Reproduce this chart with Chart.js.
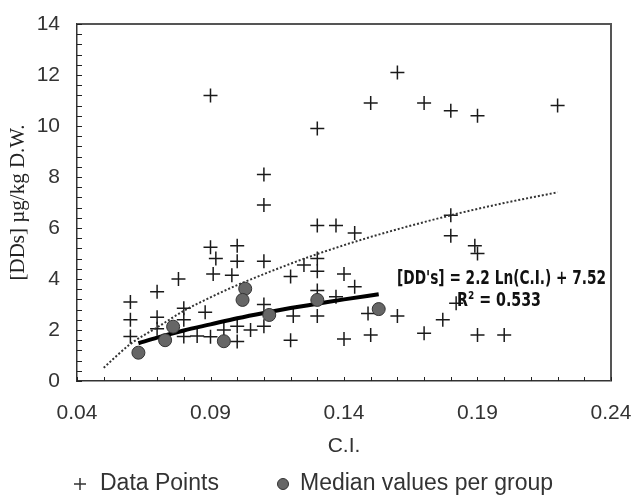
<!DOCTYPE html>
<html>
<head>
<meta charset="utf-8">
<script src="https://cdn.jsdelivr.net/npm/chart.js@4"></script>
<style>
  body { margin: 0; background: #fff; }
  #wrap { width: 634px; height: 498px; }
</style>
</head>
<body>
<div id="wrap"><canvas id="myChart"></canvas></div>
<script>
// individual samples (C.I., [DDs])
var pointsX = [0.06, 0.06, 0.06, 0.07, 0.07, 0.07, 0.078, 0.08, 0.08, 0.08,
  0.085, 0.088, 0.09, 0.09, 0.09, 0.092, 0.091, 0.095, 0.098, 0.10,
  0.10, 0.10, 0.10, 0.105, 0.11, 0.11, 0.11, 0.11, 0.11, 0.12,
  0.121, 0.12, 0.125, 0.13, 0.13, 0.13, 0.13, 0.13, 0.13, 0.137,
  0.137, 0.14, 0.14, 0.144, 0.144, 0.149, 0.15, 0.15, 0.16, 0.16,
  0.17, 0.17, 0.177, 0.18, 0.18, 0.18, 0.182, 0.189, 0.19, 0.19,
  0.19, 0.20, 0.22];
var pointsY = [3.1, 2.4, 1.75, 3.5, 2.5, 2.05, 4.0, 2.85, 2.4, 1.75,
  1.76, 2.7, 5.25, 1.74, 11.2, 4.8, 4.2, 2.0, 4.15, 5.3,
  4.7, 2.15, 1.55, 2.0, 8.1, 6.9, 4.7, 3.0, 2.15, 4.1,
  2.55, 1.6, 4.55, 9.9, 6.1, 4.8, 4.3, 3.55, 2.55, 6.1,
  3.3, 4.2, 1.65, 5.8, 3.7, 2.65, 10.9, 1.8, 12.1, 2.55,
  10.9, 1.87, 2.4, 10.6, 6.5, 5.7, 3.05, 5.3, 5.0, 10.4,
  1.8, 1.8, 10.8];

// medians per group
var medianX = [0.063, 0.073, 0.076, 0.095, 0.103, 0.102, 0.112, 0.13, 0.153];
var medianY = [1.11, 1.6, 2.13, 1.56, 3.62, 3.18, 2.59, 3.18, 2.82];

// dotted trend through all samples
var trendAllX = [0.05, 0.06, 0.07, 0.08, 0.09, 0.10, 0.12, 0.13, 0.15, 0.18, 0.20, 0.22];
var trendAllY = [0.52, 1.45, 2.1, 2.75, 3.28, 3.76, 4.6, 4.98, 5.65, 6.5, 6.98, 7.4];

// solid fit through medians
var fitX = [0.063, 0.07, 0.08, 0.09, 0.10, 0.11, 0.12, 0.13, 0.14, 0.153];
var fitY = [1.48, 1.7, 1.98, 2.22, 2.46, 2.67, 2.86, 3.03, 3.2, 3.4];

var eqText = "[DD's] = 2.2 Ln(C.I.) + 7.52";
var r2Text = "R\u00B2 = 0.533";
var legendNames = ['Data Points', 'Median values per group'];

function toXY(xs, ys) {
  return xs.map(function (x, i) { return { x: x, y: ys[i] }; });
}

var frame = {
  id: 'frame',
  afterDraw: function (chart) {
    var ctx = chart.ctx, a = chart.chartArea;
    var xs = chart.scales.x, ys = chart.scales.y;
    ctx.save();
    // top and right border
    ctx.strokeStyle = '#555';
    ctx.lineWidth = 2;
    ctx.beginPath();
    ctx.moveTo(a.left, a.top);
    ctx.lineTo(a.right, a.top);
    ctx.lineTo(a.right, a.bottom);
    ctx.stroke();
    // inside tick marks
    ctx.strokeStyle = '#222';
    ctx.lineWidth = 1;
    ctx.beginPath();
    xs.ticks.forEach(function (t) {
      var px = Math.round(xs.getPixelForValue(t.value)) + 0.5;
      ctx.moveTo(px, a.bottom);
      ctx.lineTo(px, a.bottom - 4);
    });
    ys.ticks.forEach(function (t) {
      var py = Math.round(ys.getPixelForValue(t.value)) + 0.5;
      ctx.moveTo(a.left, py);
      ctx.lineTo(a.left + 5, py);
    });
    ctx.stroke();

    // regression equation
    ctx.fillStyle = '#111';
    ctx.font = 'bold 20px "DejaVu Sans Condensed", "Liberation Sans"';
    ctx.textAlign = 'left';
    ctx.textBaseline = 'middle';
    ctx.fillText(eqText, 397, 279, 209);
    ctx.fillText(r2Text, 457, 301, 84);

    // legend
    var ly = 484;
    ctx.font = '23px "Liberation Sans"';
    ctx.fillStyle = '#333';
    ctx.fillText(legendNames[0], 100, ly);
    ctx.fillText(legendNames[1], 300, ly);
    ctx.strokeStyle = '#333';
    ctx.lineWidth = 1.5;
    ctx.beginPath();
    ctx.moveTo(74, ly); ctx.lineTo(86, ly);
    ctx.moveTo(80, ly - 6); ctx.lineTo(80, ly + 6);
    ctx.stroke();
    ctx.beginPath();
    ctx.arc(283, ly, 5.5, 0, Math.PI * 2);
    ctx.fillStyle = '#666';
    ctx.fill();
    ctx.lineWidth = 1;
    ctx.stroke();
    ctx.restore();
  }
};

var ctx = document.getElementById('myChart').getContext('2d');
var chart = new Chart(ctx, {
  type: 'scatter',
  data: {
    datasets: [{
      label: legendNames[0],
      data: toXY(pointsX, pointsY),
      pointStyle: 'cross',
      pointRadius: 7,
      borderColor: '#1a1a1a',
      backgroundColor: '#1a1a1a',
      borderWidth: 1.5,
      order: 3
    }, {
      label: legendNames[1],
      data: toXY(medianX, medianY),
      pointStyle: 'circle',
      pointRadius: 6.5,
      backgroundColor: '#666',
      borderColor: '#333',
      borderWidth: 1,
      order: 0
    }, {
      label: 'trend',
      data: toXY(trendAllX, trendAllY),
      showLine: true,
      pointRadius: 0,
      borderColor: '#333',
      borderWidth: 2,
      borderDash: [2, 2],
      cubicInterpolationMode: 'monotone',
      order: 2
    }, {
      label: 'fit',
      data: toXY(fitX, fitY),
      showLine: true,
      pointRadius: 0,
      borderColor: '#000',
      borderWidth: 4,
      cubicInterpolationMode: 'monotone',
      order: 1
    }]
  },
  options: {
    responsive: true,
    maintainAspectRatio: false,
    animation: false,
    layout: { padding: { top: 24, right: 23, left: 0, bottom: 39 } },
    plugins: {
      tooltip: { enabled: false },
      legend: { display: false }
    },
    scales: {
      x: {
        type: 'linear',
        min: 0.04,
        max: 0.24,
        grid: { display: false, drawTicks: false },
        border: { display: true, color: '#333', width: 1.5 },
        afterFit: function (s) {
          s.height = 78;
          s.paddingLeft = 0;
          s.paddingRight = 0;
        },
        ticks: {
          stepSize: 0.01,
          autoSkip: false,
          maxRotation: 0,
          padding: 20,
          color: '#333',
          font: { family: '"Liberation Sans"', size: 21 },
          callback: function (v) {
            var k = Math.round(v * 100);
            return (k - 4) % 5 === 0 ? (k / 100).toFixed(2) : '';
          }
        },
        title: {
          display: true,
          text: 'C.I.',
          color: '#333',
          padding: { top: 6, bottom: 0 },
          font: { family: '"Liberation Sans"', size: 21 }
        }
      },
      y: {
        min: 0,
        max: 14,
        grid: { display: false, drawTicks: false },
        border: { display: true, color: '#333', width: 1.5 },
        afterFit: function (s) {
          s.width = 77;
          s.paddingTop = 0;
          s.paddingBottom = 0;
        },
        ticks: {
          stepSize: 0.4,
          autoSkip: false,
          padding: 17,
          color: '#333',
          font: { family: '"Liberation Sans"', size: 21 },
          callback: function (v) {
            var k = Math.round(v * 10);
            return k % 20 === 0 ? String(k / 10) : '';
          }
        },
        title: {
          display: true,
          text: '[DDs] \u00B5g/kg D.W.',
          color: '#222',
          padding: { top: 6, bottom: 0 },
          font: { family: '"Liberation Serif"', size: 21 }
        }
      }
    }
  },
  plugins: [frame]
});
</script>
</body>
</html>
